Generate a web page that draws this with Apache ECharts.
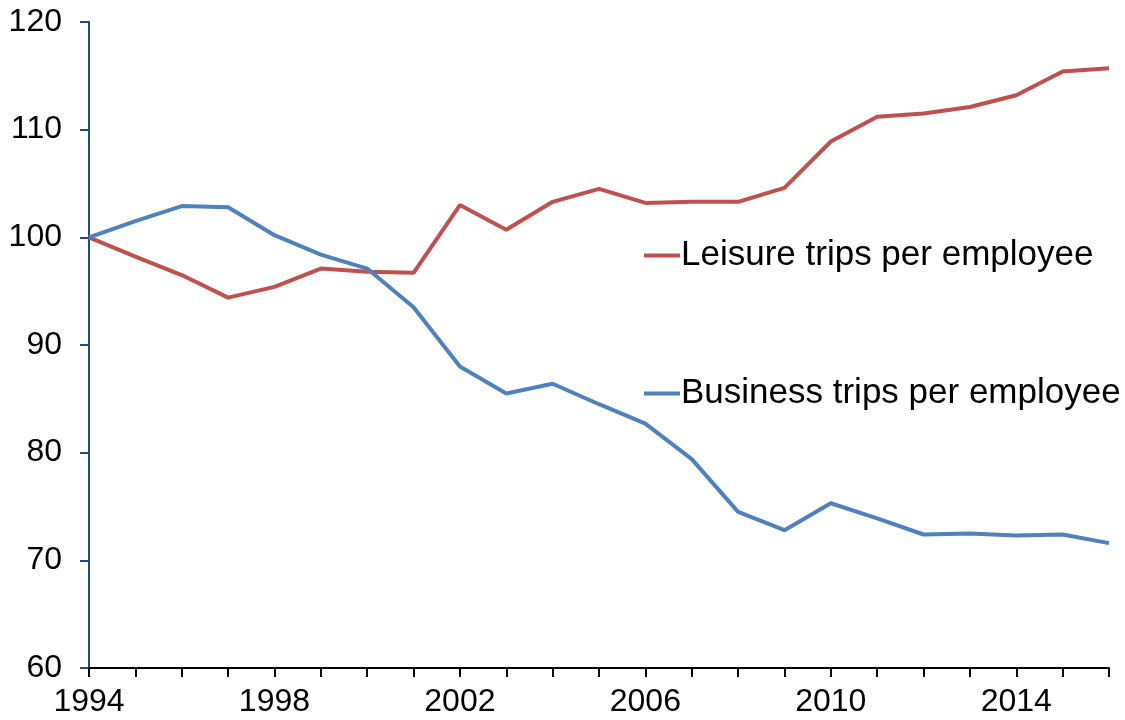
<!DOCTYPE html>
<html>
<head>
<meta charset="utf-8">
<script src="https://cdn.jsdelivr.net/npm/echarts@6/dist/echarts.min.js"></script>
<style>
  html, body { margin: 0; padding: 0; background: #fff; }
  #chart { width: 1125px; height: 720px; }
</style>
</head>
<body>
<div id="chart"></div>
<script>
// Years on the horizontal axis
const years = ['1994','1995','1996','1997','1998','1999','2000','2001','2002','2003','2004',
               '2005','2006','2007','2008','2009','2010','2011','2012','2013','2014','2015','2016'];

// Index, 1994 = 100
const leisureTrips = [100, 98.2, 96.5, 94.4, 95.4, 97.1, 96.8, 96.7, 103.0, 100.7, 103.3,
                      104.5, 103.2, 103.3, 103.3, 104.6, 108.9, 111.2, 111.5, 112.1, 113.2, 115.4, 115.7];
const businessTrips = [100, 101.5, 102.9, 102.8, 100.2, 98.4, 97.1, 93.5, 88.0, 85.5, 86.4,
                       84.5, 82.7, 79.4, 74.5, 72.8, 75.3, 73.9, 72.4, 72.5, 72.3, 72.4, 71.6];

// Value axis range
const yMin = 60, yMax = 120, yStep = 10;

const FONT = '"Liberation Sans", Arial, sans-serif';

const chart = echarts.init(document.getElementById('chart'), null, { renderer: 'canvas' });

chart.setOption({
  animation: false,
  backgroundColor: '#ffffff',
  grid: { left: 89, right: 16, top: 22, bottom: 52, containLabel: false },
  legend: {
    orient: 'vertical',
    left: 639,
    top: 233,
    itemGap: 103,
    itemWidth: 36,
    itemHeight: 4,
    icon: 'rect',
    textStyle: { fontFamily: FONT, fontSize: 35, color: '#000', padding: [0, 0, 0, -4] },
    data: ['Leisure trips per employee', 'Business trips per employee']
  },
  xAxis: {
    type: 'category',
    data: years,
    boundaryGap: false,
    axisLine: { lineStyle: { color: '#000', width: 2 } },
    axisTick: { show: true, interval: 0, length: 9, lineStyle: { color: '#000', width: 2 } },
    axisLabel: { interval: 3, margin: 18, fontFamily: FONT, fontSize: 32, color: '#000' },
    splitLine: { show: false }
  },
  yAxis: {
    type: 'value',
    min: yMin,
    max: yMax,
    interval: yStep,
    axisLine: { show: true, lineStyle: { color: '#1F4E79', width: 2 } },
    axisTick: { show: true, length: 9, lineStyle: { color: '#1F4E79', width: 2 } },
    axisLabel: { margin: 27, fontFamily: FONT, fontSize: 32, color: '#000' },
    splitLine: { show: false }
  },
  series: [
    {
      name: 'Leisure trips per employee',
      type: 'line',
      data: leisureTrips,
      symbol: 'none',
      color: '#C0504D',
      lineStyle: { color: '#C0504D', width: 4 }
    },
    {
      name: 'Business trips per employee',
      type: 'line',
      data: businessTrips,
      symbol: 'none',
      color: '#4F81BD',
      lineStyle: { color: '#4F81BD', width: 4 }
    }
  ]
});
</script>
</body>
</html>
